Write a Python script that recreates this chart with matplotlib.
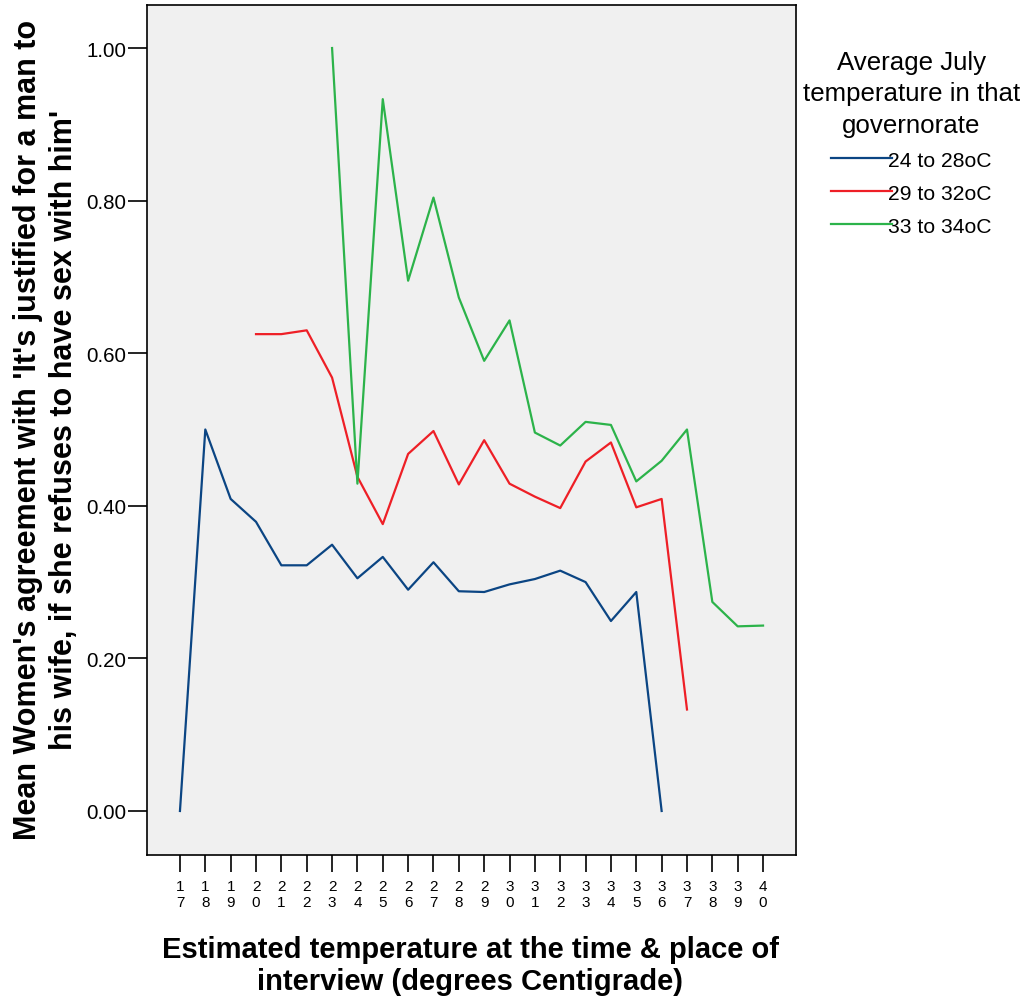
import matplotlib
matplotlib.use("Agg")
import matplotlib.pyplot as plt
import numpy as np

plt.rcParams['font.family'] = ['Liberation Sans', 'DejaVu Sans']

# Estimated temperature (x categories)
temps = list(range(17, 41))

# Mean agreement per July temperature group (None = no data)
cool = [0.00, 0.50, 0.409, 0.379, 0.322, 0.322, 0.349, 0.305, 0.333, 0.290,
        0.326, 0.288, 0.287, 0.297, 0.304, 0.315, 0.300, 0.249, 0.287, 0.00,
        None, None, None, None]
mid = [None, None, None, 0.625, 0.625, 0.630, 0.568, 0.438, 0.376, 0.468,
       0.498, 0.428, 0.486, 0.429, 0.412, 0.397, 0.458, 0.483, 0.398, 0.409,
       0.133, None, None, None]
hot = [None, None, None, None, None, None, 1.00, 0.429, 0.933, 0.695,
       0.804, 0.673, 0.590, 0.643, 0.496, 0.479, 0.510, 0.506, 0.432, 0.459,
       0.500, 0.274, 0.242, 0.243]

series = [('24 to 28oC', cool, '#0b4583'),
          ('29 to 32oC', mid, '#ee1f26'),
          ('33 to 34oC', hot, '#2cb34a')]

fig = plt.figure(figsize=(10.33, 10.03), dpi=100)
ax = fig.add_axes([147/1033, 1 - 856/1003, (796 - 147)/1033, (856 - 6)/1003])
ax.set_facecolor('#f0f0f0')

for name, vals, col in series:
    y = np.array([np.nan if v is None else v for v in vals])
    ax.plot(temps, y, color=col, lw=1.6, label=name)

ax.set_xlim(15.70, 41.30)
ax.set_ylim(-0.0577, 1.0564)
ax.set_yticks([0, 0.2, 0.4, 0.6, 0.8, 1.0])
ax.set_yticklabels(['0.00', '0.20', '0.40', '0.60', '0.80', '1.00'], fontsize=14.8)
ax.set_xticks(temps)
ax.set_xticklabels(['\n'.join(str(t)) for t in temps], fontsize=11, linespacing=1.2)
ax.tick_params(axis='y', length=14, width=1.2, pad=1)
ax.tick_params(axis='x', length=12, width=1.2, pad=5)
for s in ax.spines.values():
    s.set_linewidth(1.2)

fig.text(46/1033, 1 - 430/1003,
         "Mean Women's agreement with 'It's justified for a man to\n"
         "his wife, if she refuses to have sex with him'",
         rotation=90, ha='center', va='center', multialignment='center',
         fontsize=22, fontweight='bold', linespacing=1.3)
fig.text(470/1033, 1 - 966/1003,
         "Estimated temperature at the time & place of\n"
         "interview (degrees Centigrade)",
         ha='center', va='center', multialignment='center',
         fontsize=21, fontweight='bold', linespacing=1.2)

leg = ax.legend(loc='upper left', bbox_to_anchor=(792/1033, 1 - 40/1003),
                bbox_transform=fig.transFigure, frameon=False,
                title='Average July\ntemperature in that\ngovernorate',
                title_fontsize=18.6, fontsize=15.2, handlelength=2.9,
                handletextpad=-0.2, labelspacing=0.66, borderpad=0)
leg.get_title().set_multialignment('center')
leg.get_title().set_linespacing(1.4)

fig.savefig('out.png', dpi=100)
